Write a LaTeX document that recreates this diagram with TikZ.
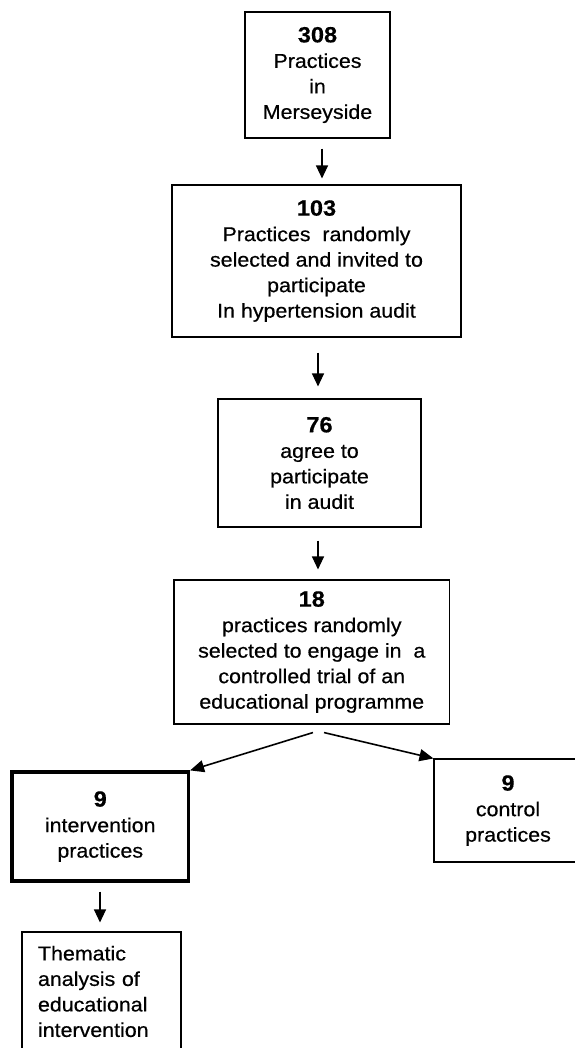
\documentclass[tikz,border=0pt]{standalone}
\usepackage{fontspec}
\setmainfont{Liberation Sans}[FakeStretch=1.07,FakeBold=0.5]
\usetikzlibrary{arrows.meta,calc}
\newcommand{\numtxt}[1]{{\fontsize{22}{25.5}\selectfont\bfseries #1}}
\begin{document}
\begin{tikzpicture}[x=1pt,y=-1pt,
  box/.style={draw, line width=1.1pt, inner sep=0pt, align=center,
    font=\fontsize{20}{25.5}\selectfont},
  thickbox/.style={box, line width=3.2pt},
  arr/.style={line width=1.2pt, -{Triangle[length=13pt,width=12pt]}},
  darr/.style={line width=1.6pt, -{Triangle[length=14pt,width=12pt]}}]
\useasboundingbox (0,0) rectangle (574,1048);
\fill[white] (0,0) rectangle (574,1048);

\node[box, minimum width=145, minimum height=126] (b1) at (317.5,75)
  {\numtxt{308}\\Practices\\in\\Merseyside};
\node[box, minimum width=289, minimum height=152] (b2) at (316.5,261)
  {\numtxt{103}\\Practices~ randomly\\selected and invited to\\participate\\In hypertension audit};
\node[box, minimum width=203, minimum height=128] (b3) at (319.5,463)
  {\numtxt{76}\\agree to\\participate\\in audit};
\node[box, minimum width=275.5, minimum height=144] (b4) at (311.75,652)
  {\numtxt{18}\\practices randomly\\selected to engage in~ a\\controlled trial of an\\educational programme};
\node[thickbox, minimum width=176.5, minimum height=109] (interv) at (100.25,826.5)
  {\numtxt{9}\\intervention\\practices};
\node[box, minimum width=148, minimum height=103] (ctrl) at (508,810.5)
  {\numtxt{9}\\control\\practices};
\node[box, minimum width=159, minimum height=119, text width=127, align=left] (them) at (101.5,991.5)
  {Thematic\\analysis of\\educational\\intervention};

\draw[arr] ([xshift=4.5pt,yshift=-10pt]b1.south) coordinate (s1) -- ([yshift=6pt]s1 |- b2.north);
\draw[arr] ([xshift=1.5pt,yshift=-15pt]b2.south) coordinate (s2) -- ([yshift=12pt]s2 |- b3.north);
\draw[arr] ([xshift=-1.5pt,yshift=-13pt]b3.south) coordinate (s3) -- ([yshift=10pt]s3 |- b4.north);
\draw[arr] ([xshift=-0.25pt,yshift=-9pt]interv.south) coordinate (s4) -- ([yshift=9pt]s4 |- them.north);

\coordinate (sl) at ([xshift=1.25pt,yshift=-8pt]b4.south);
\coordinate (sr) at ([xshift=12.25pt,yshift=-8pt]b4.south);
\draw[darr] (sl) -- (interv.north east);
\draw[darr] (sr) -- (ctrl.north west);
\end{tikzpicture}
\end{document}
